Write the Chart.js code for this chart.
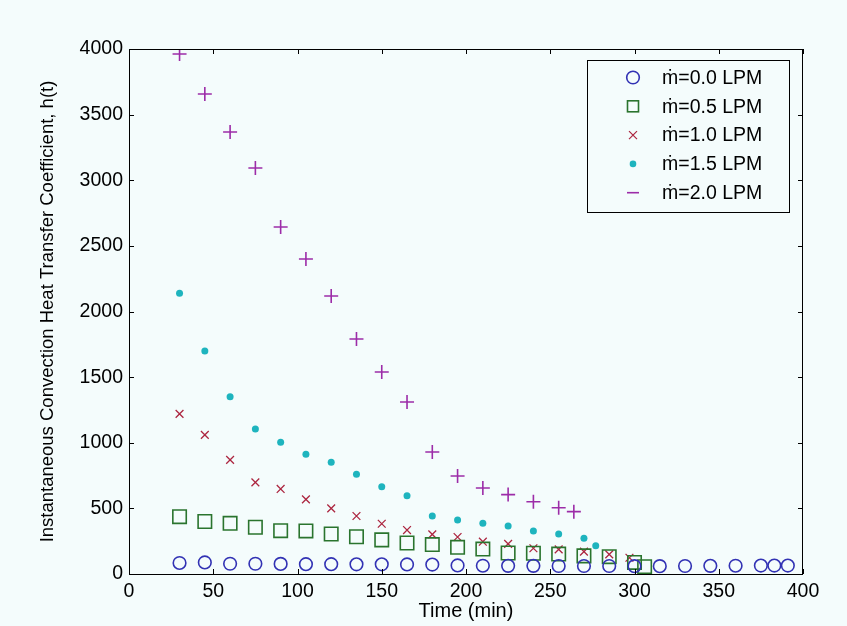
<!DOCTYPE html>
<html><head><meta charset="utf-8">
<script src="https://cdn.jsdelivr.net/npm/chart.js@4.4.0/dist/chart.umd.min.js"></script>
<style>html,body{margin:0;padding:0;background:#f4fcfc;}#wrap{width:847px;height:626px;}</style>
</head><body><div id="wrap"><canvas id="c" width="847" height="626"></canvas></div>
<script>
// ---- data ----
const seriesLabels = ['ṁ=0.0 LPM','ṁ=0.5 LPM','ṁ=1.0 LPM','ṁ=1.5 LPM','ṁ=2.0 LPM'];
const xTickValues = [0,50,100,150,200,250,300,350,400];
const yTickValues = [0,500,1000,1500,2000,2500,3000,3500,4000];

const x00 = [30,45,60,75,90,105,120,135,150,165,180,195,210,225,240,255,270,285,300,315,330,345,360,375,383,391];
const y00 = [84,88,78,78,77,75,75,74,74,73,72,65,63,62,62,61,61,61,60,60,61,62,63,64,64,64];

const x05 = [30,45,60,75,90,105,120,135,150,165,180,195,210,225,240,255,270,285,300,306];
const y05 = [437,400,386,356,330,328,305,284,260,236,224,203,190,160,158,152,138,132,88,56];

const x10 = [30,45,60,75,90,105,120,135,150,165,180,195,210,225,240,255,270,285,297];
const y10 = [1220,1060,870,698,648,569,500,442,383,335,302,282,246,229,196,188,170,150,124];

const x15 = [30,45,60,75,90,105,120,135,150,165,180,195,210,225,240,255,270,277];
const y15 = [2140,1700,1350,1105,1003,912,851,760,665,597,442,411,386,366,328,305,272,216];

const x20 = [30,45,60,75,90,105,120,135,150,165,180,195,210,225,240,255,264];
const y20 = [3962,3657,3368,3093,2644,2400,2118,1790,1539,1310,930,747,655,605,550,505,475];

function pts(xs, ys){ return xs.map((x,i)=>({x:x,y:ys[i]})); }

const FONT = "'Liberation Sans', Arial, Helvetica, sans-serif";
const colors = ['#3232b4','#2a742e','#ac2640','#1eb4be','#9c2ca8'];

Chart.defaults.color = '#000';
Chart.defaults.font.family = FONT;

const framePlugin = {
  id:'frame',
  afterDraw(chart){
    const ctx = chart.ctx, a = chart.chartArea;
    const xs = chart.scales.x, ys = chart.scales.y;
    ctx.save();
    ctx.strokeStyle = '#000'; ctx.lineWidth = 1;
    ctx.strokeRect(Math.round(a.left)+0.5, Math.round(a.top)+0.5, Math.round(a.right-a.left)-1, Math.round(a.bottom-a.top));
    const tl = 5;
    ctx.beginPath();
    xTickValues.forEach(v=>{
      const p = Math.round(xs.getPixelForValue(v))+0.5;
      ctx.moveTo(p, a.bottom); ctx.lineTo(p, a.bottom-tl);
      ctx.moveTo(p, a.top); ctx.lineTo(p, a.top+tl);
    });
    yTickValues.forEach(v=>{
      const p = Math.round(ys.getPixelForValue(v))+0.5;
      ctx.moveTo(a.left, p); ctx.lineTo(a.left+tl, p);
      ctx.moveTo(a.right, p); ctx.lineTo(a.right-tl, p);
    });
    ctx.stroke();
    ctx.restore();
  }
};

const legendPlugin = {
  id:'boxLegend',
  afterDraw(chart){
    const ctx = chart.ctx;
    const bx=587.5, by=60.5, bw=202, bh=152;
    ctx.save();
    ctx.fillStyle = '#f4fcfc';
    ctx.fillRect(bx,by,bw,bh);
    ctx.strokeStyle='#000'; ctx.lineWidth=1;
    ctx.strokeRect(bx,by,bw,bh);
    const mx = 633, tx = 662;
    ctx.font = '19.5px ' + FONT;
    ctx.textBaseline = 'middle';
    ctx.textAlign = 'left';
    seriesLabels.forEach((lab,i)=>{
      const y = 77.5 + i*28.8;
      ctx.strokeStyle = colors[i]; ctx.fillStyle = colors[i];
      ctx.lineWidth = 1.6;
      ctx.beginPath();
      if(i===0){ ctx.arc(mx,y,6.3,0,Math.PI*2); ctx.stroke(); }
      else if(i===1){ ctx.strokeRect(mx-5.5,y-5.5,11,11); }
      else if(i===2){ ctx.lineWidth=1.2; ctx.moveTo(mx-4,y-4); ctx.lineTo(mx+4,y+4); ctx.moveTo(mx+4,y-4); ctx.lineTo(mx-4,y+4); ctx.stroke(); }
      else if(i===3){ ctx.arc(mx,y,3.3,0,Math.PI*2); ctx.fill(); }
      else { ctx.moveTo(mx-6,y); ctx.lineTo(mx+6,y); ctx.stroke(); }
      ctx.fillStyle = '#000';
      ctx.fillText(lab, tx, y+1);
    });
    ctx.restore();
  }
};

const bgPlugin = {
  id:'bg',
  beforeDraw(chart){
    const ctx=chart.ctx; ctx.save(); ctx.fillStyle='#f4fcfc'; ctx.fillRect(0,0,chart.width,chart.height); ctx.restore();
  }
};

new Chart(document.getElementById('c'), {
  type:'scatter',
  data:{ datasets:[
    {label:seriesLabels[0], data:pts(x00,y00), pointStyle:'circle', pointRadius:6.3, borderColor:colors[0], backgroundColor:'rgba(0,0,0,0)', borderWidth:1.6, order:1},
    {label:seriesLabels[1], data:pts(x05,y05), pointStyle:'rect', pointRadius:9.5, borderColor:colors[1], backgroundColor:'rgba(0,0,0,0)', borderWidth:1.6, order:2},
    {label:seriesLabels[2], data:pts(x10,y10), pointStyle:'crossRot', pointRadius:5.5, borderColor:colors[2], backgroundColor:colors[2], borderWidth:1.3, order:3},
    {label:seriesLabels[3], data:pts(x15,y15), pointStyle:'circle', pointRadius:3.5, borderColor:colors[3], backgroundColor:colors[3], borderWidth:0, order:4},
    {label:seriesLabels[4], data:pts(x20,y20), pointStyle:'cross', pointRadius:7, borderColor:colors[4], backgroundColor:colors[4], borderWidth:1.6, order:5}
  ]},
  options:{
    responsive:false, animation:false, devicePixelRatio:1,
    layout:{padding:{left:0, top:49, right:44, bottom:0}},
    plugins:{legend:{display:false}, tooltip:{enabled:false}},
    elements:{point:{hoverRadius:0}},
    scales:{
      x:{type:'linear', min:0, max:400,
        afterBuildTicks(s){ s.ticks = xTickValues.map(v=>({value:v})); },
        afterFit(s){ s.height = 52; },
        grid:{display:false, drawTicks:false}, border:{display:false},
        ticks:{padding:6, font:{size:19.5, family:FONT}, color:'#000', maxRotation:0, callback:(v)=>String(v)},
        title:{display:true, text:'Time (min)', font:{size:20, family:FONT}, color:'#000', padding:{top:0,bottom:3}}
      },
      y:{type:'linear', min:0, max:4000,
        afterBuildTicks(s){ s.ticks = yTickValues.map(v=>({value:v})); },
        afterFit(s){ s.width = 129; },
        grid:{display:false, drawTicks:false}, border:{display:false},
        ticks:{padding:6, font:{size:19.5, family:FONT}, color:'#000', callback:(v)=>String(v)},
        title:{display:true, text:'Instantaneous Convection Heat Transfer Coefficient, h(t)', font:{size:18.5, family:FONT}, color:'#000', padding:{top:37,bottom:0}}
      }
    }
  },
  plugins:[bgPlugin, framePlugin, legendPlugin]
});
</script>
</body></html>
